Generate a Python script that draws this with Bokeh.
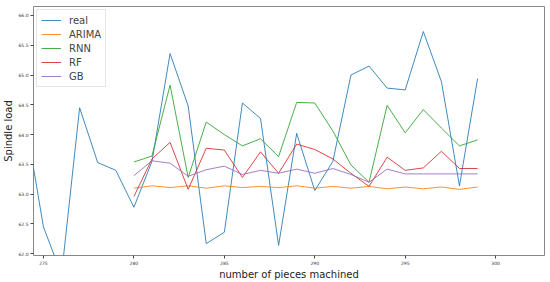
from bokeh.plotting import figure
from bokeh.models import Range1d, Legend, LegendItem
from bokeh.embed import file_html
from bokeh.resources import INLINE

x_real = list(range(274, 300))
real = [64.25, 62.45, 61.65, 64.45, 63.53, 63.40, 62.78, 63.55, 65.36, 64.48,
        62.17, 62.36, 64.53, 64.27, 62.14, 64.02, 63.06, 63.55, 65.00, 65.15,
        64.78, 64.75, 65.73, 64.89, 63.14, 64.94]

x_pred = list(range(280, 300))
arima = [63.10, 63.14, 63.11, 63.14, 63.10, 63.14, 63.11, 63.13, 63.11, 63.14,
         63.10, 63.13, 63.10, 63.13, 63.09, 63.12, 63.09, 63.12, 63.08, 63.12]
rnn = [63.54, 63.64, 64.83, 63.28, 64.21, 64.00, 63.81, 63.93, 63.63, 64.54,
       64.53, 64.06, 63.49, 63.20, 64.49, 64.03, 64.42, 64.11, 63.81, 63.91]
rf = [62.96, 63.59, 63.87, 63.08, 63.77, 63.74, 63.28, 63.71, 63.35, 63.84,
      63.75, 63.59, 63.35, 63.13, 63.62, 63.40, 63.44, 63.72, 63.43, 63.43]
gb = [63.31, 63.56, 63.52, 63.30, 63.41, 63.47, 63.33, 63.40, 63.35, 63.42,
      63.35, 63.43, 63.33, 63.20, 63.42, 63.34, 63.34, 63.34, 63.34, 63.34]

x_ticks = [275, 280, 285, 290, 295, 300]
y_ticks = [62.0, 62.5, 63.0, 63.5, 64.0, 64.5, 65.0, 65.5, 66.0]

FONT = "DejaVu Sans"

p = figure(width=550, height=282, output_backend="svg", toolbar_location=None,
           x_range=Range1d(274.45, 302.7), y_range=Range1d(61.97, 66.15),
           min_border_left=32, min_border_right=6, min_border_top=6, min_border_bottom=24)
p.xgrid.visible = False
p.ygrid.visible = False
p.outline_line_color = "#888888"
p.outline_line_width = 1
p.background_fill_color = "white"

series = [("real", x_real, real, "#1f77b4"),
          ("ARIMA", x_pred, arima, "#ff7f0e"),
          ("RNN", x_pred, rnn, "#2ca02c"),
          ("RF", x_pred, rf, "#d62728"),
          ("GB", x_pred, gb, "#9467bd")]
items = []
for name, xs, ys, c in series:
    r = p.line(xs, ys, line_color=c, line_width=1, line_alpha=0.85)
    items.append(LegendItem(label=name, renderers=[r]))

legend = Legend(items=items, location="top_left")
legend.label_text_font = FONT
legend.label_text_font_size = "10px"
legend.label_height = 12
legend.glyph_height = 12
legend.glyph_width = 20
legend.spacing = 2
legend.padding = 4
legend.margin = 3
legend.label_standoff = 8
legend.border_line_color = "#cccccc"
legend.border_line_width = 1
legend.background_fill_alpha = 0.9
p.add_layout(legend)

for ax in (p.xaxis[0], p.yaxis[0]):
    ax.axis_line_color = None
    ax.major_tick_line_color = "#444444"
    ax.minor_tick_line_color = None
    ax.major_tick_out = 3
    ax.major_tick_in = 0
    ax.major_label_text_font = FONT
    ax.major_label_text_font_size = "4.5px"
    ax.major_label_text_color = "#333333"
    ax.axis_label_text_font = FONT
    ax.axis_label_text_font_size = "10px"
    ax.axis_label_text_font_style = "normal"
    ax.axis_label_text_color = "#222222"
    ax.major_label_standoff = 2
    ax.axis_label_standoff = 1

p.xaxis.ticker = x_ticks
p.yaxis.ticker = y_ticks
p.xaxis.major_label_overrides = {t: str(t) for t in x_ticks}
p.yaxis.major_label_overrides = {t: f"{t:.1f}" for t in y_ticks}
p.xaxis.axis_label = "number of pieces machined"
p.yaxis.axis_label = "Spindle load"

open("out.html", "w").write(file_html(p, INLINE))
